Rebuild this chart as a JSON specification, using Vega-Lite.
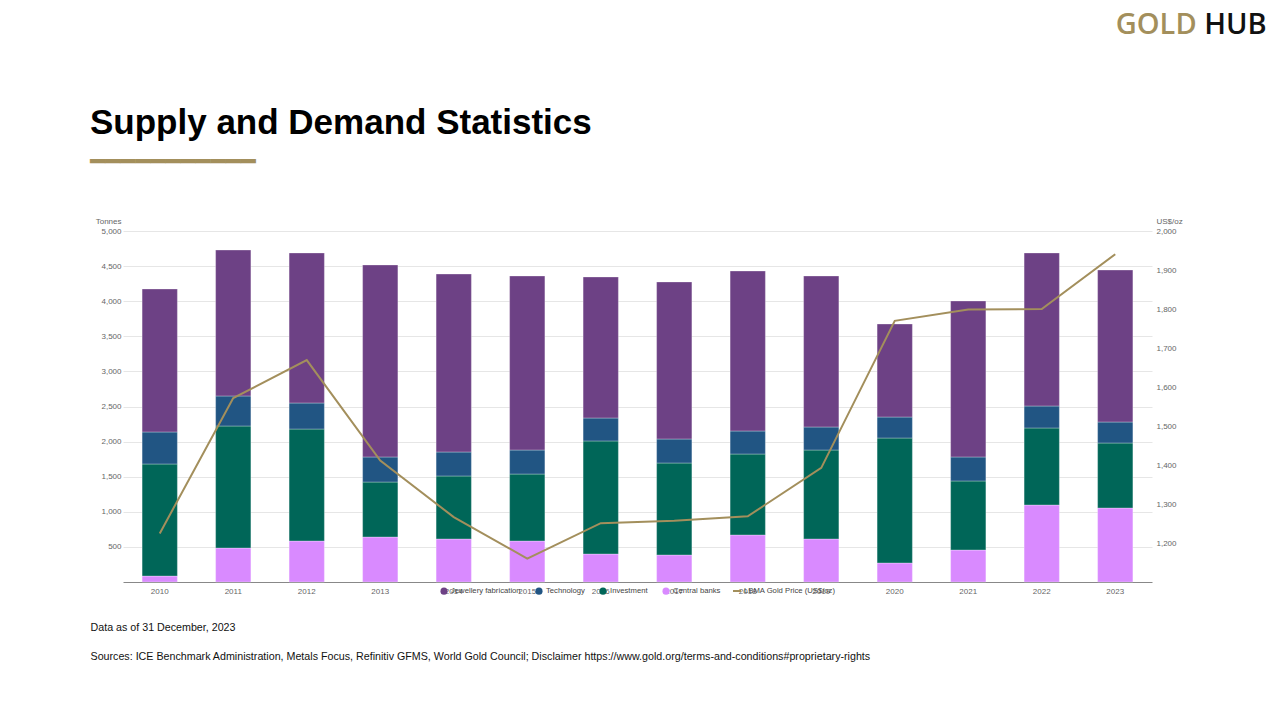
{
  "$schema": "https://vega.github.io/schema/vega-lite/v6.json",
  "width": 1029,
  "height": 351,
  "autosize": {"type": "none"},
  "padding": {"left": 123, "top": 231, "right": 128, "bottom": 138},
  "background": "#ffffff",
  "config": {"font": "Liberation Sans", "view": {"stroke": null}},
  "title": {
    "text": "Supply and Demand Statistics",
    "subtitle": "━━━━━━━━━━━",
    "anchor": "start",
    "frame": "group",
    "dx": -33,
    "dy": 165,
    "offset": 0,
    "font": "Liberation Sans",
    "fontSize": 35,
    "fontWeight": "bold",
    "color": "#000000",
    "subtitleFont": "DejaVu Sans",
    "subtitleFontSize": 25,
    "subtitleColor": "#a38f5c",
    "subtitlePadding": 9
  },
  "datasets": {
    "demand": [
      {"year": "2010", "type": "Central banks", "tonnes": 85},
      {"year": "2010", "type": "Investment", "tonnes": 1596},
      {"year": "2010", "type": "Technology", "tonnes": 456},
      {"year": "2010", "type": "Jewellery fabrication", "tonnes": 2037},
      {"year": "2011", "type": "Central banks", "tonnes": 484},
      {"year": "2011", "type": "Investment", "tonnes": 1738},
      {"year": "2011", "type": "Technology", "tonnes": 428},
      {"year": "2011", "type": "Jewellery fabrication", "tonnes": 2079},
      {"year": "2012", "type": "Central banks", "tonnes": 584},
      {"year": "2012", "type": "Investment", "tonnes": 1595},
      {"year": "2012", "type": "Technology", "tonnes": 371},
      {"year": "2012", "type": "Jewellery fabrication", "tonnes": 2137},
      {"year": "2013", "type": "Central banks", "tonnes": 641},
      {"year": "2013", "type": "Investment", "tonnes": 783},
      {"year": "2013", "type": "Technology", "tonnes": 357},
      {"year": "2013", "type": "Jewellery fabrication", "tonnes": 2735},
      {"year": "2014", "type": "Central banks", "tonnes": 613},
      {"year": "2014", "type": "Investment", "tonnes": 897},
      {"year": "2014", "type": "Technology", "tonnes": 342},
      {"year": "2014", "type": "Jewellery fabrication", "tonnes": 2535},
      {"year": "2015", "type": "Central banks", "tonnes": 584},
      {"year": "2015", "type": "Investment", "tonnes": 954},
      {"year": "2015", "type": "Technology", "tonnes": 342},
      {"year": "2015", "type": "Jewellery fabrication", "tonnes": 2479},
      {"year": "2016", "type": "Central banks", "tonnes": 399},
      {"year": "2016", "type": "Investment", "tonnes": 1610},
      {"year": "2016", "type": "Technology", "tonnes": 327},
      {"year": "2016", "type": "Jewellery fabrication", "tonnes": 2009},
      {"year": "2017", "type": "Central banks", "tonnes": 385},
      {"year": "2017", "type": "Investment", "tonnes": 1310},
      {"year": "2017", "type": "Technology", "tonnes": 342},
      {"year": "2017", "type": "Jewellery fabrication", "tonnes": 2237},
      {"year": "2018", "type": "Central banks", "tonnes": 670},
      {"year": "2018", "type": "Investment", "tonnes": 1153},
      {"year": "2018", "type": "Technology", "tonnes": 328},
      {"year": "2018", "type": "Jewellery fabrication", "tonnes": 2279},
      {"year": "2019", "type": "Central banks", "tonnes": 613},
      {"year": "2019", "type": "Investment", "tonnes": 1267},
      {"year": "2019", "type": "Technology", "tonnes": 328},
      {"year": "2019", "type": "Jewellery fabrication", "tonnes": 2151},
      {"year": "2020", "type": "Central banks", "tonnes": 271},
      {"year": "2020", "type": "Investment", "tonnes": 1780},
      {"year": "2020", "type": "Technology", "tonnes": 299},
      {"year": "2020", "type": "Jewellery fabrication", "tonnes": 1325},
      {"year": "2021", "type": "Central banks", "tonnes": 456},
      {"year": "2021", "type": "Investment", "tonnes": 983},
      {"year": "2021", "type": "Technology", "tonnes": 342},
      {"year": "2021", "type": "Jewellery fabrication", "tonnes": 2222},
      {"year": "2022", "type": "Central banks", "tonnes": 1097},
      {"year": "2022", "type": "Investment", "tonnes": 1097},
      {"year": "2022", "type": "Technology", "tonnes": 313},
      {"year": "2022", "type": "Jewellery fabrication", "tonnes": 2180},
      {"year": "2023", "type": "Central banks", "tonnes": 1054},
      {"year": "2023", "type": "Investment", "tonnes": 926},
      {"year": "2023", "type": "Technology", "tonnes": 299},
      {"year": "2023", "type": "Jewellery fabrication", "tonnes": 2165}
    ],
    "price": [
      {"year": "2010", "price": 1224.52},
      {"year": "2011", "price": 1571.52},
      {"year": "2012", "price": 1668.98},
      {"year": "2013", "price": 1411.23},
      {"year": "2014", "price": 1266.4},
      {"year": "2015", "price": 1160.06},
      {"year": "2016", "price": 1250.8},
      {"year": "2017", "price": 1257.15},
      {"year": "2018", "price": 1268.49},
      {"year": "2019", "price": 1392.6},
      {"year": "2020", "price": 1769.64},
      {"year": "2021", "price": 1798.61},
      {"year": "2022", "price": 1800.09},
      {"year": "2023", "price": 1940.54}
    ]
  },
  "layer": [
    {
      "data": {"name": "demand"},
      "transform": [
        {"calculate": "indexof(['Central banks', 'Investment', 'Technology', 'Jewellery fabrication'], datum.type)", "as": "stack_rank"}
      ],
      "mark": {"type": "bar", "stroke": "#ffffff", "strokeWidth": 0.6, "strokeOpacity": 0.5},
      "encoding": {
        "x": {
          "field": "year",
          "type": "ordinal",
          "scale": {"paddingInner": 0.52, "paddingOuter": 0.26},
          "axis": {
            "orient": "bottom",
            "labelAngle": 0,
            "labelFontSize": 8,
            "labelColor": "#666666",
            "labelPadding": 5,
            "ticks": false,
            "domainColor": "#888888",
            "domainWidth": 1,
            "grid": false,
            "title": ["Data as of 31 December, 2023", "Sources: ICE Benchmark Administration, Metals Focus, Refinitiv GFMS, World Gold Council; Disclaimer https://www.gold.org/terms-and-conditions#proprietary-rights"],
            "titleX": -33,
            "titleY": 48,
            "titleAlign": "left",
            "titleAnchor": "start",
            "titleBaseline": "alphabetic",
            "titleFontSize": 10.7,
            "titleFontWeight": "normal",
            "titleColor": "#111111",
            "titleLineHeight": 29
          }
        },
        "y": {
          "field": "tonnes",
          "type": "quantitative",
          "stack": "zero",
          "scale": {"domain": [0, 5000]},
          "axis": {
            "orient": "left",
            "values": [500, 1000, 1500, 2000, 2500, 3000, 3500, 4000, 4500, 5000],
            "format": ",d",
            "labelFontSize": 8,
            "labelColor": "#666666",
            "labelPadding": 2,
            "ticks": false,
            "domain": false,
            "grid": true,
            "gridColor": "#e6e6e6",
            "title": "Tonnes",
            "titleAngle": 0,
            "titleAlign": "right",
            "titleBaseline": "middle",
            "titleX": -2,
            "titleY": -10,
            "titleFontSize": 8,
            "titleFontWeight": "normal",
            "titleColor": "#666666"
          }
        },
        "order": {"field": "stack_rank", "type": "quantitative", "sort": "ascending"},
        "color": {
          "field": "type",
          "type": "nominal",
          "scale": {
            "domain": ["Jewellery fabrication", "Technology", "Investment", "Central banks"],
            "range": ["#6d4185", "#215583", "#006658", "#d98aff"]
          },
          "legend": {
            "orient": "none",
            "legendX": 317,
            "legendY": 356,
            "direction": "horizontal",
            "title": null,
            "symbolType": "circle",
            "symbolSize": 50,
            "symbolOpacity": 1,
            "symbolStrokeWidth": 0,
            "labelFontSize": 7.7,
            "labelColor": "#444444",
            "labelOffset": 3,
            "columnPadding": 14
          }
        }
      }
    },
    {
      "data": {"name": "price"},
      "mark": {"type": "line", "strokeWidth": 2},
      "encoding": {
        "x": {
          "field": "year",
          "type": "ordinal",
          "axis": {
            "orient": "top",
            "domain": false,
            "ticks": false,
            "tickSize": 0,
            "grid": false,
            "title": null,
            "labelAngle": 0,
            "labelExpr": "datum.value == '2022' ? 'GOLD' : datum.value == '2023' ? 'HUB' : ''",
            "labelAlign": "left",
            "labelBaseline": "alphabetic",
            "labelPadding": 198,
            "labelFont": "Open Sans",
            "labelFontSize": 29,
            "labelFontWeight": 600,
            "labelOverlap": false,
            "labelColor": {"condition": {"test": "datum.value == '2022'", "value": "#a38f5c"}, "value": "#111111"},
            "labelOffset": {"condition": {"test": "datum.value == '2022'", "value": 74}, "value": 89}
          }
        },
        "y": {
          "field": "price",
          "type": "quantitative",
          "scale": {"domain": [1100, 2000]},
          "axis": {
            "orient": "right",
            "values": [1200, 1300, 1400, 1500, 1600, 1700, 1800, 1900, 2000],
            "format": ",d",
            "labelFontSize": 8,
            "labelColor": "#666666",
            "labelPadding": 4,
            "ticks": false,
            "domain": false,
            "grid": false,
            "title": "US$/oz",
            "titleAngle": 0,
            "titleAlign": "left",
            "titleBaseline": "middle",
            "titleX": 4,
            "titleY": -10,
            "titleFontSize": 8,
            "titleFontWeight": "normal",
            "titleColor": "#666666"
          }
        },
        "stroke": {
          "datum": "LBMA Gold Price (US$/oz)",
          "scale": {"range": ["#a38f5c"]},
          "legend": {
            "orient": "none",
            "legendX": 609,
            "legendY": 355,
            "direction": "horizontal",
            "title": null,
            "symbolType": "stroke",
            "symbolSize": 64,
            "symbolStrokeWidth": 2,
            "labelFontSize": 7.7,
            "labelColor": "#444444",
            "labelOffset": 2
          }
        }
      }
    }
  ],
  "resolve": {"scale": {"y": "independent"}, "axis": {"x": "independent", "y": "independent"}}
}
